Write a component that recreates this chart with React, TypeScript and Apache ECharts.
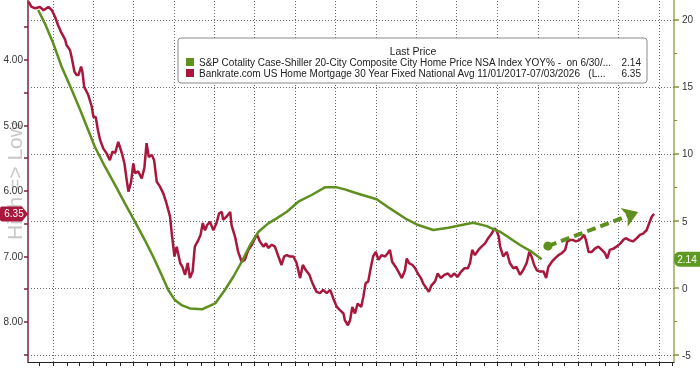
import React, { useEffect, useRef } from 'react';
import * as echarts from 'echarts';

// x positions are day offsets from the chart's first date
const START_UTC = Date.UTC(2021, 10, 5);
const END_UTC = Date.UTC(2025, 10, 4);
const DAY = 86400000;

// Bankrate 30Y fixed mortgage rate (%), [day offset, rate]
const mortgageRate: [number, number][] = [
  [1, 3.11], [8, 3.19], [16, 3.21], [27, 3.19], [35, 3.24], [46, 3.19], [54, 3.24], [61, 3.34],
  [68, 3.47], [76, 3.59], [84, 3.69], [87, 3.77], [95, 3.85], [99, 3.97], [105, 4.18], [110, 4.23],
  [114, 4.23], [120, 4.1], [123, 4.18], [127, 4.41], [136, 4.53], [144, 4.71], [148, 4.87], [153, 4.87],
  [158, 5.07], [163, 5.22], [170, 5.35], [178, 5.43], [185, 5.53], [191, 5.4], [197, 5.42], [204, 5.25],
  [212, 5.42], [218, 5.58], [223, 5.83], [227, 6.01], [233, 5.86], [238, 5.58], [242, 5.73], [249, 5.7],
  [257, 5.81], [263, 5.65], [268, 5.27], [273, 5.48], [280, 5.45], [285, 5.53], [291, 5.86], [298, 5.93],
  [306, 6.04], [313, 6.19], [321, 6.39], [325, 6.65], [331, 7.0], [336, 6.85], [344, 7.1], [349, 7.16],
  [355, 7.28], [361, 7.1], [366, 7.33], [372, 7.23], [377, 6.85], [385, 6.75], [390, 6.67], [395, 6.49],
  [400, 6.6], [405, 6.52], [411, 6.47], [419, 6.6], [426, 6.49], [432, 6.34], [438, 6.32], [441, 6.44],
  [449, 6.39], [457, 6.32], [460, 6.52], [468, 6.7], [475, 6.93], [483, 7.08], [490, 7.05], [498, 6.9],
  [506, 6.82], [513, 6.72], [518, 6.67], [524, 6.77], [532, 6.85], [538, 6.8], [543, 6.87], [551, 6.82],
  [558, 6.85], [566, 7.0], [573, 7.13], [579, 7.0], [585, 6.98], [592, 7.0], [600, 7.0], [607, 7.1],
  [615, 7.33], [621, 7.13], [628, 7.21], [636, 7.28], [643, 7.41], [652, 7.54], [660, 7.56], [667, 7.51],
  [675, 7.56], [683, 7.51], [690, 7.64], [698, 7.77], [705, 7.82], [713, 7.87], [716, 7.97], [723, 8.05],
  [728, 7.97], [733, 7.77], [739, 7.87], [745, 7.72], [753, 7.77], [758, 7.61], [763, 7.41], [769, 7.38],
  [775, 7.16], [780, 7.0], [786, 6.93], [792, 7.05], [799, 6.98], [807, 7.0], [813, 6.95], [818, 6.9],
  [823, 7.08], [831, 7.16], [837, 7.23], [845, 7.33], [852, 7.21], [856, 7.03], [861, 7.1], [869, 7.13],
  [875, 7.18], [881, 7.26], [888, 7.33], [893, 7.41], [901, 7.49], [906, 7.54], [912, 7.44], [920, 7.38],
  [926, 7.26], [933, 7.33], [941, 7.28], [949, 7.26], [956, 7.31], [963, 7.26], [971, 7.31], [979, 7.23],
  [986, 7.18], [994, 7.18], [999, 7.1], [1004, 6.9], [1010, 6.98], [1018, 6.9], [1025, 6.85], [1033, 6.8],
  [1040, 6.72], [1048, 6.65], [1054, 6.57], [1059, 6.6], [1064, 6.7], [1067, 6.85], [1074, 7.0], [1082, 6.93],
  [1089, 7.1], [1097, 7.18], [1104, 7.16], [1112, 7.28], [1119, 7.21], [1127, 7.1], [1133, 6.93], [1138, 7.0],
  [1144, 7.13], [1150, 7.21], [1157, 7.23], [1165, 7.23], [1171, 7.33], [1176, 7.16], [1184, 7.08], [1191, 7.03],
  [1199, 6.98], [1206, 6.95], [1214, 6.9], [1219, 6.77], [1225, 6.75], [1232, 6.75], [1238, 6.77], [1246, 6.75],
  [1251, 6.72], [1257, 6.67], [1261, 6.75], [1267, 6.93], [1274, 6.93], [1281, 6.88], [1289, 6.85], [1297, 6.9],
  [1304, 6.95], [1309, 7.03], [1315, 6.9], [1323, 6.88], [1330, 6.85], [1339, 6.8], [1345, 6.75], [1351, 6.72],
  [1359, 6.75], [1367, 6.77], [1376, 6.72], [1383, 6.67], [1390, 6.65], [1398, 6.6], [1404, 6.49], [1410, 6.39],
  [1415, 6.35],
];

// Case-Shiller 20-City YoY (%), [day offset, yoy]
const caseShillerYoY: [number, number][] = [
  [23, 20.74], [38, 19.75], [57, 18.26], [76, 16.51], [99, 14.77], [118, 13.28], [136, 11.79], [151, 10.54],
  [174, 9.05], [197, 7.68], [219, 6.32], [242, 4.94], [264, 3.58], [283, 2.33], [302, 0.97], [317, -0.15],
  [332, -0.9], [347, -1.27], [366, -1.52], [393, -1.59], [423, -1.15], [445, -0.15], [464, 0.84], [483, 1.96],
  [502, 3.21], [521, 4.2], [543, 4.82], [562, 5.2], [585, 5.69], [611, 6.44], [641, 6.94], [671, 7.51],
  [698, 7.51], [716, 7.36], [739, 7.11], [788, 6.62], [818, 5.94], [852, 5.2], [882, 4.7], [916, 4.33],
  [950, 4.5], [980, 4.7], [1006, 4.87], [1037, 4.62], [1055, 4.33], [1067, 4.2], [1112, 3.21], [1138, 2.71],
  [1161, 2.14],
];

// trend arrow annotation (day offset, right-axis value)
const arrowFrom: [number, number] = [1175, 3.13];
const arrowTo: [number, number] = [1379, 5.67];

const LEFT_LABELS = [4, 5, 6, 7, 8];
const LEFT_TICKS = [3.5, 4, 4.5, 5, 5.5, 6, 6.5, 7, 7.5, 8, 8.5];
const RIGHT_LABELS = [-5, 0, 5, 10, 15, 20];
const RIGHT_MINOR = [-2.5, 2.5, 7.5, 12.5, 17.5];

const GREEN_NAME = 'S&P Cotality Case-Shiller 20-City Composite City Home Price NSA Index YOY% -  on 6/30/...';
const RED_NAME = 'Bankrate.com US Home Mortgage 30 Year Fixed National Avg 11/01/2017-07/03/2026   (L...';
const GREEN_LAST = '2.14';
const RED_LAST = '6.35';

const RED = '#a8173c';
const GREEN = '#5e8f1f';
const FONT = 'Liberation Sans';
const GRID_LINE = { color: '#6a6a6a', type: [1, 2], width: 1, opacity: 1 };

const ts = (d: number) => START_UTC + d * DAY;

function monthStarts(): number[] {
  const out: number[] = [];
  for (let y = 2021; y <= 2025; y++) {
    for (let m = 0; m < 12; m++) {
      const t = Date.UTC(y, m, 1);
      if (t > START_UTC && t < END_UTC) out.push(t);
    }
  }
  return out;
}
function quarterStarts(): number[] {
  return monthStarts().filter((t) => new Date(t).getUTCMonth() % 3 === 0);
}

export default function App() {
  const ref = useRef<HTMLDivElement>(null);
  useEffect(() => {
    if (!ref.current) return;
    const chart = echarts.init(ref.current, null, { renderer: 'svg' });
    const lastVals: Record<string, string> = { [GREEN_NAME]: GREEN_LAST, [RED_NAME]: RED_LAST };
    const greenData = caseShillerYoY.map(([d, v]) => [ts(d), v]);
    chart.setOption({
      animation: false,
      textStyle: { fontFamily: FONT },
      grid: { left: 28, right: 26, top: 0, bottom: 13, containLabel: false, outerBoundsMode: 'none' },
      legend: {
        left: 178,
        top: 38,
        z: 10,
        orient: 'vertical',
        padding: [19, 6, 5, 8],
        itemGap: 1,
        itemWidth: 8,
        itemHeight: 8,
        icon: 'rect',
        backgroundColor: '#fff',
        borderColor: '#8a8a8a',
        borderWidth: 1,
        borderRadius: 3,
        data: [GREEN_NAME, RED_NAME],
        formatter: (name: string) => `{n|${name}}{v|${lastVals[name]}}`,
        textStyle: {
          color: '#222',
          fontSize: 10,
          fontFamily: FONT,
          rich: {
            n: { width: 424, fontSize: 10, fontFamily: FONT, color: '#222' },
            v: { width: 18, align: 'right', fontSize: 10, fontFamily: FONT, color: '#222' },
          },
        },
      },
      graphic: [
        {
          type: 'text',
          x: 413,
          y: 51,
          style: {
            text: 'Last Price',
            fill: '#222',
            fontSize: 10.5,
            fontFamily: FONT,
            textAlign: 'center',
            textVerticalAlign: 'middle',
          },
          z: 100,
        },
      ],
      xAxis: [
        {
          type: 'time',
          min: START_UTC,
          max: END_UTC,
          axisLine: { show: true, onZero: false, lineStyle: { color: '#222', width: 1 } },
          axisTick: { show: true, length: 4, customValues: monthStarts(), lineStyle: { color: '#222' } },
          axisLabel: { show: false },
          splitLine: { show: false },
        },
      ],
      yAxis: [
        {
          type: 'value',
          position: 'left',
          inverse: true,
          min: 3.084,
          max: 8.611,
          name: 'High => Low',
          nameLocation: 'middle',
          nameRotate: 90,
          nameGap: 3,
          nameMoveOverlap: false,
          nameTextStyle: { color: '#c8c8c8', fontSize: 21, fontFamily: FONT },
          axisLine: { show: true, onZero: false, lineStyle: { color: '#7b2240', width: 1.5 } },
          axisTick: { show: true, length: 4, customValues: LEFT_TICKS, lineStyle: { color: '#7b2240', width: 1.5 } },
          axisLabel: {
            customValues: LEFT_LABELS,
            formatter: (v: number) => v.toFixed(2),
            color: '#333',
            fontSize: 10,
            margin: 5,
          },
          splitLine: { show: false },
        },
        {
          type: 'value',
          position: 'right',
          min: -5.52,
          max: 21.49,
          axisLine: { show: true, onZero: false, lineStyle: { color: '#9aab55', width: 1.5 } },
          axisTick: { show: true, length: 5, customValues: RIGHT_LABELS, lineStyle: { color: '#7f9440', width: 1.5 } },
          axisLabel: { customValues: RIGHT_LABELS, color: '#333', fontSize: 10, margin: 8 },
          splitLine: { show: false },
        },
        {
          type: 'value',
          position: 'right',
          min: -5.52,
          max: 21.49,
          axisLine: { show: false, onZero: false },
          axisTick: { show: true, length: 3, customValues: RIGHT_MINOR, lineStyle: { color: '#7f9440' } },
          axisLabel: { show: false },
          splitLine: { show: false },
        },
      ],
      series: [
        {
          name: 'gridlines',
          type: 'line',
          xAxisIndex: 0,
          yAxisIndex: 1,
          data: greenData,
          showSymbol: false,
          symbol: 'none',
          lineStyle: { width: 0, color: 'rgba(0,0,0,0)' },
          silent: true,
          z: 1,
          markLine: {
            z: 1,
            silent: true,
            animation: false,
            symbol: ['none', 'none'],
            label: { show: false },
            lineStyle: GRID_LINE,
            data: [
              ...quarterStarts().map((t) => ({ xAxis: t, lineStyle: GRID_LINE })),
              ...RIGHT_LABELS.map((v) => ({ yAxis: v, lineStyle: GRID_LINE })),
            ],
          },
        },
        {
          name: RED_NAME,
          type: 'line',
          xAxisIndex: 0,
          yAxisIndex: 0,
          data: mortgageRate.map(([d, v]) => [ts(d), v]),
          showSymbol: false,
          symbol: 'none',
          color: RED,
          lineStyle: { color: RED, width: 2.5 },
          clip: false,
          z: 3,
          markPoint: {
            silent: true,
            data: [
              {
                coord: [START_UTC, Number(RED_LAST)],
                symbol: 'path://M2,0 L22,0 L28,7 L22,14 L2,14 Q0,14 0,12 L0,2 Q0,0 2,0 Z',
                symbolSize: [28, 15],
                symbolOffset: [-14, 0],
                itemStyle: { color: RED },
                label: { show: true, position: 'inside', formatter: RED_LAST, color: '#fff', fontSize: 10 },
              },
            ],
          },
        },
        {
          name: GREEN_NAME,
          type: 'line',
          xAxisIndex: 0,
          yAxisIndex: 1,
          data: greenData,
          showSymbol: false,
          symbol: 'none',
          color: GREEN,
          lineStyle: { color: GREEN, width: 2.5 },
          clip: false,
          z: 4,
          markPoint: {
            silent: true,
            data: [
              {
                coord: [END_UTC, Number(GREEN_LAST)],
                symbol: 'path://M6,0 L26,0 L26,14 L6,14 Q0,14 0,7 Q0,0 6,0 Z',
                symbolSize: [26, 15],
                symbolOffset: [13, 0],
                itemStyle: { color: '#5e9a22' },
                label: { show: true, position: 'inside', formatter: GREEN_LAST, color: '#fff', fontSize: 10 },
              },
            ],
          },
          markLine: {
            silent: true,
            animation: false,
            label: { show: false },
            lineStyle: { color: GREEN, width: 4, type: [9, 5] },
            data: [
              [
                { coord: [ts(arrowFrom[0]), arrowFrom[1]], symbol: 'circle', symbolSize: 9 },
                { coord: [ts(arrowTo[0]), arrowTo[1]], symbol: 'arrow', symbolSize: [15, 15] },
              ],
            ],
          },
        },
      ],
    });
    return () => chart.dispose();
  }, []);
  return <div ref={ref} style={{ position: 'fixed', left: 0, top: 0, width: 700, height: 375 }} />;
}
